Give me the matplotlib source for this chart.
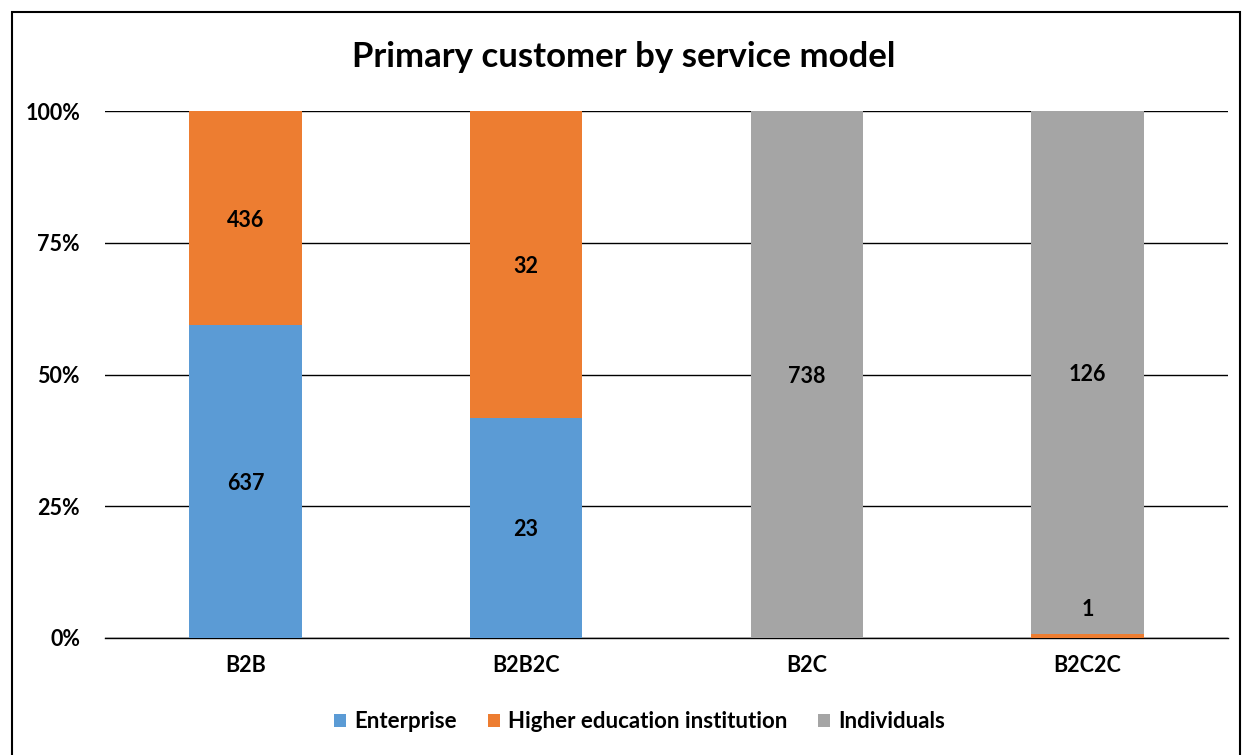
import numpy as np
from matplotlib import pyplot as plt
from matplotlib.patches import Rectangle

models     = ["B2B", "B2B2C", "B2C", "B2C2C"]
enterprise = [637, 23, 0, 0]
higher_ed  = [436, 32, 0, 1]
individual = [0, 0, 738, 126]

series = [("Enterprise", enterprise, "#5B9BD5"),
          ("Higher education institution", higher_ed, "#ED7D31"),
          ("Individuals", individual, "#A5A5A5")]

plt.rcParams['font.family'] = ['Lato', 'DejaVu Sans']
plt.rcParams['font.weight'] = 'bold'

counts = np.array([s[1] for s in series], dtype=float)
totals = counts.sum(axis=0)
shares = counts / totals

fig = plt.figure(figsize=(12.48, 7.55), dpi=100)
ax = fig.add_axes([105/1248, 1-638/755, (1228-105)/1248, (638-111)/755])

x = np.arange(len(models))
bottom = np.zeros(len(models))
for (name, vals, color), frac in zip(series, shares):
    ax.bar(x, frac, 0.4, bottom=bottom, color=color, label=name, zorder=3)
    for i, v in enumerate(vals):
        if v == 0:
            continue
        mid = bottom[i] + frac[i]/2
        if frac[i] < 0.05:
            # thin segment: lift the label above it
            ax.annotate(str(v), (x[i], bottom[i] + frac[i]), xytext=(0, 19),
                        textcoords="offset points", ha="center",
                        va="center_baseline", fontsize=15.5,
                        fontweight="bold", zorder=4)
        else:
            ax.text(x[i], mid, str(v), ha="center", va="center_baseline",
                    fontsize=15.5, fontweight="bold", zorder=4)
    bottom += frac

ax.set_xlim(-0.5, 3.5)
ax.set_ylim(0, 1)
ax.set_yticks([0, 0.25, 0.5, 0.75, 1.0])
ax.set_yticklabels(["0%", "25%", "50%", "75%", "100%"])
ax.set_xticks(x)
ax.set_xticklabels(models)
ax.tick_params(length=0, labelsize=15.5, pad=12)
ax.tick_params(axis="y", pad=18)
ax.grid(axis="y", color="black", linewidth=1, zorder=0)
for sp in ["top", "right", "left"]:
    ax.spines[sp].set_visible(False)
ax.spines["bottom"].set_linewidth(1)

fig.text(0.5, 1-57/755, "Primary customer by service model", ha="center",
         va="center", fontsize=25, fontweight="bold")

ax.legend(loc="center", bbox_to_anchor=(0.476, (638-722)/(638-111)), ncol=3,
          frameon=False, fontsize=16, handlelength=0.55, handleheight=0.55,
          handletextpad=0.35, columnspacing=1.4)

fig.patches.append(Rectangle((12/1248, -0.05), (1240-12)/1248, 1.05-12/755,
                             transform=fig.transFigure, fill=False,
                             edgecolor="black", linewidth=1.5))

plt.savefig("out.png", dpi=100)
